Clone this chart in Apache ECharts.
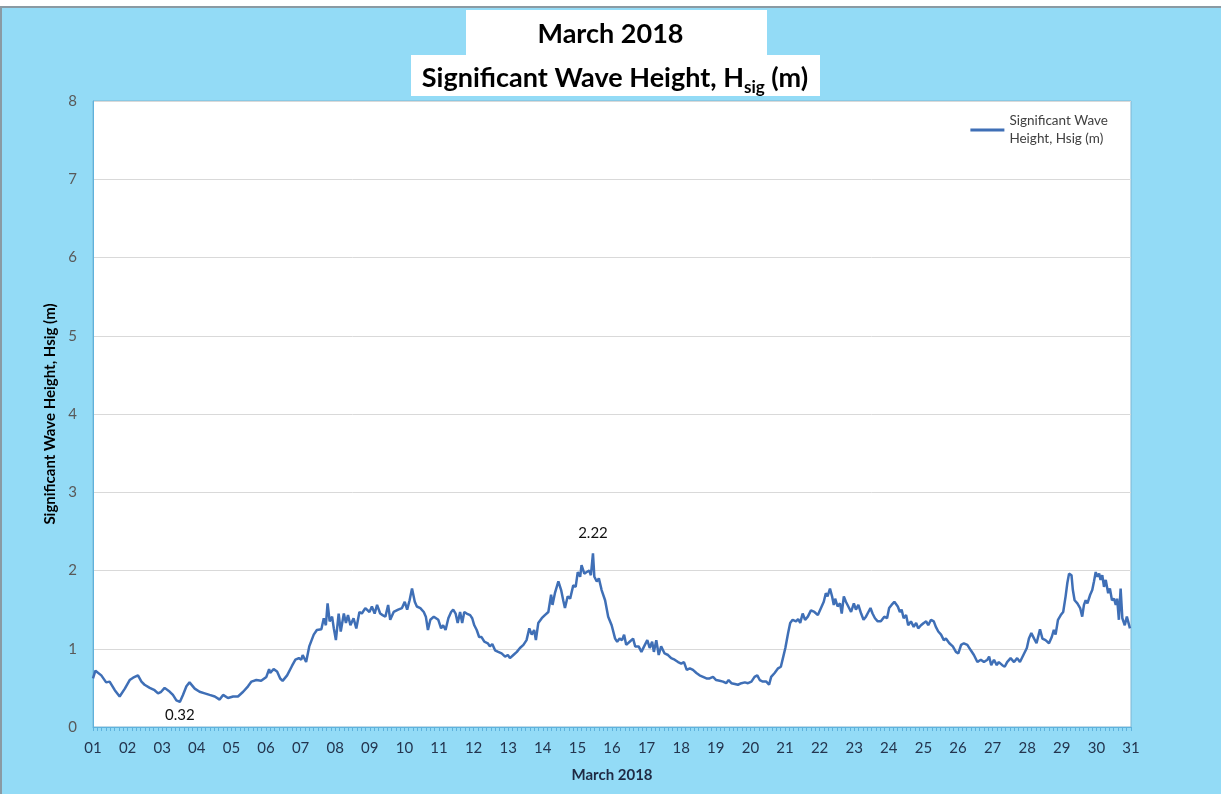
<!DOCTYPE html>
<html>
<head>
<meta charset="utf-8">
<script src="https://cdn.jsdelivr.net/npm/echarts@6/dist/echarts.min.js"></script>
<style>
  html, body { margin: 0; padding: 0; background: #ffffff; }
  #chart { position: absolute; left: 0; top: 0; width: 1221px; height: 794px; }
</style>
</head>
<body>
<div id="chart"></div>
<script>
// day of month (decimal)
var days = [
  1.00, 1.07, 1.24, 1.38, 1.48, 1.63, 1.77, 1.82, 1.92, 2.06, 2.16, 2.30, 2.40, 2.49, 2.64, 2.78, 2.88, 2.97,
  3.07, 3.22, 3.31, 3.41, 3.51, 3.60, 3.70, 3.79, 3.94, 4.08, 4.23, 4.37, 4.52, 4.66, 4.76, 4.90,
  5.05, 5.19, 5.34, 5.48, 5.58, 5.72, 5.86, 6.01, 6.09, 6.12, 6.22, 6.32, 6.41, 6.48, 6.61, 6.75, 6.85, 6.95,
  7.02, 7.06, 7.16, 7.25, 7.38, 7.47, 7.60, 7.67, 7.73, 7.78, 7.84, 7.91, 7.96,
  8.02, 8.10, 8.16, 8.25, 8.31, 8.37, 8.44, 8.53, 8.61, 8.70, 8.77, 8.87, 8.99,
  9.06, 9.14, 9.21, 9.30, 9.37, 9.45, 9.53, 9.59, 9.69, 9.82, 9.93,
  10.01, 10.08, 10.15, 10.22, 10.30, 10.36, 10.46, 10.56, 10.62, 10.68, 10.75, 10.85, 10.98,
  11.06, 11.12, 11.19, 11.27, 11.35, 11.41, 11.48, 11.54, 11.61, 11.67, 11.73, 11.80, 11.90, 11.96,
  12.02, 12.09, 12.16, 12.23, 12.31, 12.41, 12.47, 12.54, 12.62, 12.71, 12.81, 12.91, 12.99,
  13.05, 13.15, 13.25, 13.34, 13.44, 13.53, 13.61, 13.68, 13.75, 13.80, 13.87, 13.97,
  14.06, 14.16, 14.24, 14.28, 14.35, 14.45, 14.53, 14.59, 14.64, 14.72, 14.79, 14.88, 14.95,
  15.01, 15.08, 15.12, 15.20, 15.27, 15.34, 15.39, 15.45, 15.49, 15.56, 15.62, 15.70, 15.80, 15.89, 15.99,
  16.09, 16.15, 16.22, 16.29, 16.35, 16.41, 16.51, 16.61, 16.67, 16.77, 16.85, 16.95,
  17.02, 17.09, 17.16, 17.21, 17.28, 17.35, 17.42, 17.52, 17.62, 17.71, 17.81, 17.91,
  18.00, 18.08, 18.16, 18.25, 18.34, 18.44, 18.53, 18.63, 18.73, 18.82, 18.92,
  19.01, 19.11, 19.21, 19.30, 19.37, 19.45, 19.55, 19.64, 19.74, 19.84, 19.93,
  20.03, 20.12, 20.20, 20.27, 20.36, 20.46, 20.54, 20.60, 20.70, 20.80, 20.88, 20.94,
  21.01, 21.09, 21.15, 21.22, 21.32, 21.38, 21.44, 21.51, 21.58, 21.66, 21.75, 21.85, 21.95,
  22.04, 22.12, 22.18, 22.23, 22.30, 22.36, 22.41, 22.45, 22.52, 22.59, 22.64, 22.70, 22.76, 22.83, 22.91, 22.99,
  23.05, 23.12, 23.20, 23.27, 23.34, 23.41, 23.47, 23.53, 23.60, 23.68, 23.77, 23.87, 23.95,
  24.01, 24.08, 24.16, 24.21, 24.26, 24.32, 24.37, 24.43, 24.50, 24.56, 24.64, 24.72, 24.79, 24.85, 24.93,
  25.01, 25.08, 25.14, 25.22, 25.30, 25.36, 25.43, 25.51, 25.59, 25.65, 25.75, 25.85, 25.94,
  26.01, 26.09, 26.17, 26.27, 26.37, 26.46, 26.56, 26.66, 26.75, 26.85, 26.90, 26.96,
  27.04, 27.12, 27.18, 27.28, 27.35, 27.42, 27.52, 27.62, 27.71, 27.79, 27.89, 27.99,
  28.05, 28.12, 28.20, 28.27, 28.37, 28.44, 28.53, 28.63, 28.71, 28.77, 28.82, 28.89, 28.97,
  29.04, 29.11, 29.16, 29.21, 29.28, 29.32, 29.37, 29.45, 29.53, 29.59, 29.64, 29.69, 29.74, 29.82, 29.88, 29.93, 29.98,
  30.03, 30.08, 30.12, 30.17, 30.22, 30.27, 30.34, 30.39, 30.45, 30.51, 30.56, 30.60, 30.65, 30.70, 30.75, 30.82, 30.88, 30.91, 30.97
];
// significant wave height (m)
var hsig = [
  0.62, 0.72, 0.66, 0.57, 0.58, 0.47, 0.39, 0.41, 0.49, 0.60, 0.63, 0.66, 0.58, 0.54, 0.50, 0.47, 0.43, 0.45,
  0.50, 0.45, 0.41, 0.34, 0.32, 0.41, 0.52, 0.57, 0.49, 0.45, 0.43, 0.41, 0.39, 0.35, 0.41, 0.37,
  0.39, 0.39, 0.45, 0.52, 0.58, 0.60, 0.59, 0.64, 0.74, 0.69, 0.74, 0.71, 0.62, 0.59, 0.66, 0.78, 0.86, 0.88,
  0.86, 0.92, 0.83, 1.03, 1.18, 1.24, 1.25, 1.39, 1.30, 1.58, 1.35, 1.41, 1.26,
  1.11, 1.45, 1.22, 1.45, 1.33, 1.43, 1.30, 1.39, 1.26, 1.47, 1.45, 1.52, 1.47,
  1.54, 1.45, 1.56, 1.45, 1.43, 1.41, 1.56, 1.37, 1.47, 1.50, 1.52,
  1.60, 1.50, 1.62, 1.77, 1.60, 1.54, 1.52, 1.47, 1.41, 1.24, 1.37, 1.41, 1.37,
  1.26, 1.30, 1.24, 1.39, 1.47, 1.50, 1.45, 1.33, 1.47, 1.33, 1.47, 1.45, 1.43, 1.39,
  1.30, 1.24, 1.15, 1.15, 1.09, 1.07, 1.03, 1.06, 0.98, 0.96, 0.94, 0.90, 0.92,
  0.88, 0.92, 0.96, 1.01, 1.05, 1.11, 1.26, 1.18, 1.24, 1.11, 1.33, 1.39,
  1.43, 1.47, 1.69, 1.56, 1.71, 1.86, 1.75, 1.62, 1.52, 1.67, 1.64, 1.81, 1.79,
  1.98, 1.92, 2.07, 1.96, 1.98, 2.00, 1.94, 2.22, 1.92, 1.86, 1.90, 1.75, 1.62, 1.41, 1.30,
  1.13, 1.09, 1.13, 1.11, 1.18, 1.05, 1.09, 1.13, 1.03, 1.03, 0.96, 1.05,
  1.11, 1.01, 1.09, 0.96, 1.11, 0.92, 1.03, 0.94, 0.92, 0.88, 0.86, 0.83,
  0.81, 0.83, 0.73, 0.75, 0.73, 0.69, 0.66, 0.64, 0.62, 0.62, 0.64,
  0.60, 0.59, 0.58, 0.56, 0.60, 0.56, 0.55, 0.54, 0.56, 0.57, 0.56,
  0.58, 0.64, 0.66, 0.60, 0.58, 0.58, 0.54, 0.64, 0.69, 0.75, 0.77, 0.88,
  1.01, 1.20, 1.33, 1.37, 1.35, 1.38, 1.33, 1.45, 1.37, 1.41, 1.49, 1.47, 1.43,
  1.52, 1.60, 1.71, 1.67, 1.77, 1.67, 1.56, 1.64, 1.54, 1.58, 1.45, 1.67, 1.60, 1.54, 1.47, 1.58,
  1.50, 1.56, 1.45, 1.37, 1.41, 1.47, 1.52, 1.45, 1.39, 1.35, 1.35, 1.41, 1.39,
  1.52, 1.56, 1.60, 1.62, 1.54, 1.47, 1.50, 1.39, 1.43, 1.30, 1.35, 1.28, 1.33, 1.26, 1.30,
  1.33, 1.35, 1.30, 1.37, 1.35, 1.28, 1.22, 1.18, 1.11, 1.13, 1.07, 1.03, 0.96,
  0.94, 1.05, 1.07, 1.05, 0.98, 0.92, 0.83, 0.86, 0.83, 0.86, 0.90, 0.79,
  0.86, 0.79, 0.83, 0.79, 0.77, 0.83, 0.88, 0.83, 0.88, 0.83, 0.92, 1.01,
  1.13, 1.20, 1.13, 1.07, 1.25, 1.13, 1.11, 1.07, 1.15, 1.24, 1.18, 1.37, 1.43,
  1.47, 1.67, 1.84, 1.96, 1.94, 1.75, 1.62, 1.58, 1.52, 1.41, 1.56, 1.62, 1.58, 1.69, 1.75, 1.86, 1.98,
  1.92, 1.96, 1.88, 1.94, 1.79, 1.88, 1.71, 1.77, 1.62, 1.64, 1.56, 1.64, 1.37, 1.77, 1.39, 1.30, 1.41, 1.39, 1.26
];
var yTicks = [0, 1, 2, 3, 4, 5, 6, 7, 8];

var seriesData = days.map(function (d, i) { return [d, hsig[i]]; });

var chartDom = document.getElementById('chart');
var myChart = echarts.init(chartDom);
var font = 'Lato, "Open Sans", sans-serif';
var option = {
  backgroundColor: '#93dbf6',
  animation: false,
  textStyle: { fontFamily: font },
  graphic: [
    { type: 'rect', shape: { x: 0, y: 0, width: 1221, height: 6 }, style: { fill: '#ffffff' } },
    { type: 'rect', shape: { x: 0, y: 6, width: 1221, height: 2 }, style: { fill: '#8a9aa3' } },
    { type: 'rect', shape: { x: 0, y: 6, width: 2, height: 788 }, style: { fill: '#8a9aa3' } },
    { type: 'rect', shape: { x: 466, y: 10, width: 301, height: 46 }, style: { fill: '#ffffff' } },
    { type: 'rect', shape: { x: 411, y: 55, width: 409, height: 41 }, style: { fill: '#ffffff' } },
    {
      type: 'text', left: 'center', top: 21,
      style: { text: 'March 2018', font: 'bold 27px ' + font, fill: '#000' }
    },
    {
      type: 'text', x: 615, y: 60,
      style: {
        text: '{a|Significant Wave Height, H}{b|sig}{a| (m)}',
        align: 'center',
        rich: {
          a: { font: 'bold 27px ' + font, fill: '#000', verticalAlign: 'bottom', lineHeight: 32 },
          b: { font: 'bold 17px ' + font, fill: '#000', verticalAlign: 'bottom', lineHeight: 20, padding: [0, 0, -4, 0] }
        }
      }
    }
  ],
  grid: {
    left: 93, right: 90, top: 101, bottom: 67,
    show: true, backgroundColor: '#ffffff', borderColor: '#7fb6d2', borderWidth: 1
  },
  legend: {
    right: 108, top: 107,
    itemWidth: 34, itemHeight: 3, itemGap: 4,
    icon: 'rect',
    data: ['Significant Wave Height, Hsig (m)'],
    formatter: function () { return 'Significant Wave\nHeight, Hsig (m)'; },
    textStyle: { fontSize: 13.5, color: '#404040', lineHeight: 18 }
  },
  xAxis: {
    type: 'value', min: 1, max: 31, interval: 1,
    name: 'March 2018', nameLocation: 'middle', nameGap: 41,
    nameTextStyle: { fontSize: 15, fontWeight: 'bold', color: '#1f2a44' },
    axisLine: { show: true, lineStyle: { color: '#5fb2dc', width: 1 } },
    axisTick: { show: true, length: 4, lineStyle: { color: '#5fb2dc' } },
    minorTick: { show: true, splitNumber: 8, length: 4, lineStyle: { color: '#5fb2dc' } },
    splitLine: { show: false },
    axisLabel: {
      fontSize: 15, color: '#24354f', margin: 14,
      formatter: function (v) { return (v < 10 ? '0' : '') + v; }
    }
  },
  yAxis: {
    type: 'value', min: yTicks[0], max: yTicks[yTicks.length - 1], interval: 1,
    name: 'Significant Wave Height, Hsig (m)', nameLocation: 'middle', nameGap: 28,
    nameTextStyle: { fontSize: 15, fontWeight: 'bold', color: '#000' },
    axisLine: { show: true, lineStyle: { color: '#5fb2dc', width: 1 } },
    axisTick: { show: false },
    splitLine: { lineStyle: { color: '#d9d9d9' } },
    axisLabel: { fontSize: 15, color: '#595959', margin: 16 }
  },
  series: [{
    name: 'Significant Wave Height, Hsig (m)',
    type: 'line',
    data: seriesData,
    symbol: 'none',
    lineStyle: { color: '#3f6fb6', width: 2.5 },
    itemStyle: { color: '#3f6fb6' },
    markPoint: {
      symbol: 'circle', symbolSize: 1,
      itemStyle: { color: 'rgba(0,0,0,0)' },
      label: { show: true, fontSize: 15, color: '#111' },
      data: [
        { type: 'max', label: { position: 'top', distance: 12 } },
        { type: 'min', label: { position: 'bottom', distance: 5 } }
      ]
    }
  }]
};
option && myChart.setOption(option);
</script>
</body>
</html>
